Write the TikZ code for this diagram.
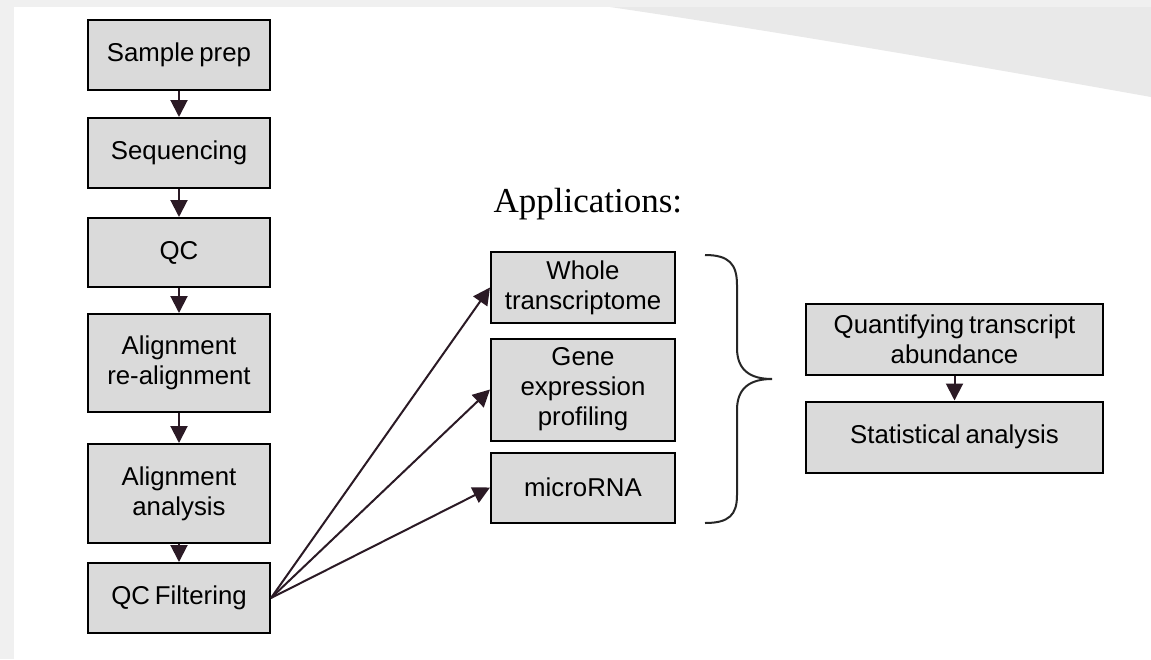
\documentclass[tikz,border=0pt]{standalone}
\usepackage{fontspec}
\setmainfont[WordSpace=0.7]{Liberation Sans}
\newfontfamily\serifapp{Liberation Serif}
\usetikzlibrary{arrows.meta}
\definecolor{boxfill}{HTML}{DADADA}
\definecolor{arrowcol}{HTML}{2B1A25}
\definecolor{framegray}{HTML}{F0F0F0}
\definecolor{wedgegray}{HTML}{E9E9E9}
\begin{document}
\begin{tikzpicture}[x=1pt,y=-1pt,
  stepbox/.style={draw=black, line width=2pt, fill=boxfill, align=center, inner sep=0pt,
    font=\fontsize{25.8}{30}\selectfont},
  leftbox/.style={stepbox, minimum width=182pt},
  midbox/.style={stepbox, minimum width=184pt},
  rightbox/.style={stepbox, minimum width=297pt, minimum height=71pt},
  flow/.style={draw=arrowcol, line width=2pt, -{Triangle[length=17pt,width=17pt]}},
  bracestyle/.style={draw=black!85, line width=2pt}]
\useasboundingbox (0,0) rectangle (1151,659);
% background
\fill[framegray] (0,0) rectangle (1151,659);
\fill[white] (14,7) rectangle (1151,659);
\fill[wedgegray] (610,7) .. controls (800,35) and (1000,70) .. (1151,97) -- (1151,7) -- cycle;
% left column
\node[leftbox, minimum height=70pt] (sp) at (179,55) {Sample prep};
\node[leftbox, minimum height=70pt] (seq) at (179,153) {Sequencing};
\node[leftbox, minimum height=69pt] (qc) at (179,252.5) {QC};
\node[leftbox, minimum height=98pt] (ar) at (179,363) {Alignment\\re-alignment};
\node[leftbox, minimum height=99pt] (aa) at (179,493.5) {Alignment\\analysis};
\node[leftbox, minimum height=70pt] (qcf) at (179,598) {QC Filtering};
% middle column
\node[anchor=base west, font=\serifapp\fontsize{35}{40}\selectfont] (apps) at (490,212) {Applications:};
\node[midbox, minimum height=71pt] (wt) at (583,287.5) {Whole\\transcriptome};
\node[midbox, minimum height=102pt] (gep) at (583,389.5) {Gene\\expression\\profiling};
\node[midbox, minimum height=70pt] (mi) at (583,487.5) {microRNA};
% right column
\node[rightbox] (qta) at (954.5,339.5) {Quantifying transcript\\abundance};
\node[rightbox] (sa) at (954.5,437) {Statistical analysis};
% arrows
\draw[flow] (sp.south) -- (seq.north);
\draw[flow] (seq.south) -- (qc.north);
\draw[flow] (qc.south) -- (ar.north);
\draw[flow] (ar.south) -- (aa.north);
\draw[flow] (aa.south) -- (qcf.north);
\draw[flow] (qcf.east) -- (wt.west);
\draw[flow] (qcf.east) -- (gep.west);
\draw[flow] (qcf.east) -- (mi.west);
\draw[flow] (qta.south) -- (sa.north);
% brace
\draw[bracestyle] (705,255) .. controls (729,255) and (737,264) .. (737,285)
  -- (737,348) .. controls (737,370) and (750,379) .. (772,379)
  .. controls (750,379) and (737,388) .. (737,410)
  -- (737,495) .. controls (737,515) and (729,523) .. (705,523);
\end{tikzpicture}
\end{document}
